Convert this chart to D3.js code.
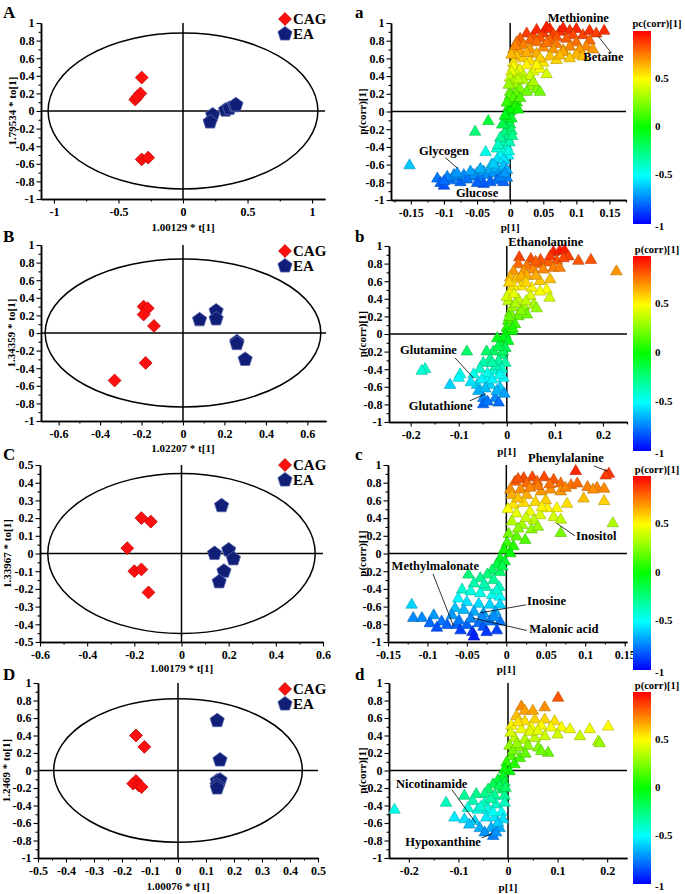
<!DOCTYPE html>
<html>
<head>
<meta charset="utf-8">
<script src="https://cdn.jsdelivr.net/npm/d3@7.9.0/dist/d3.min.js"></script>
<style>
  body { margin: 0; background: #fff; }
  svg { display: block; font-family: "Liberation Serif", "Times New Roman", serif; font-weight: bold; }
</style>
</head>
<body>
<svg id="fig" width="685" height="894"></svg>
<script>
/* ---------------- Data ---------------- */

// colour scale of p(corr)[1]
const colorDomain = [-1, -0.5, 0, 0.5, 1];
const colorRange = ['#0000ff', '#00ffff', '#00ff00', '#ffff00', '#ff0000'];
const colorbarTicks = [0.5, 0, -0.5, -1];

// tick labels
const ticksY2 = [-1, -0.8, -0.6, -0.4, -0.2, 0, 0.2, 0.4, 0.6, 0.8, 1];
const ticksY1 = [-0.5, -0.4, -0.3, -0.2, -0.1, 0, 0.1, 0.2, 0.3, 0.4, 0.5];
const ticksXA = [-1, -0.5, 0, 0.5, 1];
const ticksXB = [-0.6, -0.4, -0.2, 0, 0.2, 0.4, 0.6];
const ticksXC = [-0.6, -0.4, -0.2, 0, 0.2, 0.4, 0.6];
const ticksXD = [-0.5, -0.4, -0.3, -0.2, -0.1, 0, 0.1, 0.2, 0.3, 0.4, 0.5];
const ticksXa = [-0.15, -0.1, -0.05, 0, 0.05, 0.1, 0.15];
const ticksXb = [-0.2, -0.1, 0, 0.1, 0.2];
const ticksXc = [-0.15, -0.1, -0.05, 0, 0.05, 0.1, 0.15];
const ticksXd = [-0.2, -0.1, 0, 0.1, 0.2];

// score plots: [t[1], to[1]]
const cagA = [[-0.32, 0.38], [-0.33, 0.20], [-0.37, 0.13], [-0.355, 0.16], [-0.32, -0.55], [-0.27, -0.53]];
const eaA = [[0.23, -0.045], [0.21, -0.125], [0.33, 0.01], [0.36, 0.03], [0.40, 0.06], [0.41, 0.07]];
const cagB = [[-0.19, 0.30], [-0.17, 0.28], [-0.19, 0.21], [-0.14, 0.08], [-0.18, -0.34], [-0.33, -0.54]];
const eaB = [[0.08, 0.15], [0.16, 0.25], [0.16, 0.16], [0.26, -0.10], [0.26, -0.12], [0.30, -0.30]];
const cagC = [[-0.17, 0.20], [-0.13, 0.18], [-0.23, 0.03], [-0.20, -0.10], [-0.17, -0.09], [-0.14, -0.22]];
const eaC = [[0.17, 0.27], [0.14, 0.00], [0.20, 0.02], [0.22, -0.03], [0.18, -0.10], [0.16, -0.16]];
const cagD = [[-0.15, 0.40], [-0.12, 0.27], [-0.15, -0.12], [-0.16, -0.15], [-0.14, -0.17], [-0.13, -0.19]];
const eaD = [[0.14, 0.57], [0.15, 0.12], [0.14, -0.12], [0.15, -0.11], [0.14, -0.17], [0.14, -0.20]];

// Hotelling ellipse half axes [t, to]
const ellipseA = [1.045, 0.886];
const ellipseB = [0.665, 0.84];
const ellipseC = [0.567, 0.452];
const ellipseD = [0.444, 0.82];

// S-plots: [p[1], p(corr)[1]]
const splotA = [
  [0.025, 0.88], [0.035, 0.85], [0.04, 0.92], [0.05, 0.88], [0.055, 0.95], [0.06, 0.93], [0.065, 0.87], [0.075, 0.90],
  [0.08, 0.94], [0.09, 0.91], [0.1, 0.93], [0.11, 0.86], [0.12, 0.91], [0.13, 0.88], [0.142, 0.91], [0.015, 0.82],
  [0.03, 0.80], [0.045, 0.83], [0.07, 0.84], [0.095, 0.86],
  [0.01, 0.78], [0.02, 0.75], [0.04, 0.78], [0.06, 0.80], [0.07, 0.76], [0.085, 0.82], [0.1, 0.78], [0.12, 0.80],
  [0.115, 0.73], [0.125, 0.70], [0.005, 0.70], [0.03, 0.70], [0.05, 0.72], [0.09, 0.73], [0.015, 0.68], [0.008, 0.74],
  [0.065, 0.70], [0.08, 0.69], [0.105, 0.70], [0.055, 0.77],
  [0.01, 0.62], [0.02, 0.60], [0.04, 0.65], [0.06, 0.62], [0.08, 0.67], [0.1, 0.64], [0.11, 0.62], [0.005, 0.55],
  [0.03, 0.57], [0.05, 0.55], [0.07, 0.58], [0.09, 0.60], [0.002, 0.64], [0.025, 0.66], [0.045, 0.60], [0.075, 0.63],
  [0.005, 0.50], [0.015, 0.47], [0.025, 0.52], [0.035, 0.45], [0.045, 0.48], [0.055, 0.42], [0.01, 0.42], [0.002, 0.45],
  [0.02, 0.40], [0.04, 0.52], [0.03, 0.40],
  [0.0, 0.38], [0.005, 0.33], [0.01, 0.30], [0.02, 0.35], [0.03, 0.28], [0.04, 0.25], [0.045, 0.22], [0.015, 0.25],
  [0.0, 0.22], [0.008, 0.20], [0.025, 0.22], [-0.002, 0.30], [0.035, 0.33], [0.012, 0.36],
  [0.0, 0.18], [0.005, 0.12], [0.002, 0.08], [-0.002, 0.05], [0.004, 0.02], [-0.003, -0.02], [0.005, 0.15], [0.01, 0.10],
  [0.008, 0.05], [-0.005, 0.10], [0.0, 0.0], [0.015, 0.15], [0.012, 0.02],
  [-0.005, -0.05], [-0.003, -0.1], [0.0, -0.15], [-0.005, -0.2], [-0.008, -0.25], [-0.004, -0.3], [-0.01, -0.35],
  [-0.005, -0.4], [-0.012, -0.45], [-0.003, -0.5], [-0.015, -0.5], [-0.02, -0.55], [-0.008, -0.55], [-0.028, -0.6],
  [-0.037, -0.46], [0.002, -0.08], [0.002, -0.22], [-0.001, -0.35], [-0.012, -0.15], [-0.015, -0.3], [-0.002, -0.45],
  [-0.01, -0.55], [-0.02, -0.42], [-0.008, -0.05], [0.003, -0.28], [-0.018, -0.38],
  [-0.033, -0.11], [-0.053, -0.23], [-0.152, -0.61],
  [-0.11, -0.76], [-0.105, -0.81], [-0.1, -0.84], [-0.09, -0.78], [-0.08, -0.75], [-0.075, -0.80], [-0.07, -0.72],
  [-0.06, -0.74], [-0.05, -0.70], [-0.045, -0.76], [-0.04, -0.68], [-0.035, -0.72], [-0.03, -0.66], [-0.025, -0.70],
  [-0.02, -0.64], [-0.015, -0.68], [-0.01, -0.62], [-0.005, -0.66], [-0.04, -0.82], [-0.03, -0.80], [-0.02, -0.78],
  [-0.01, -0.80], [-0.005, -0.75], [-0.055, -0.72], [-0.065, -0.77], [-0.085, -0.72], [-0.095, -0.74], [-0.05, -0.81],
  [-0.015, -0.75], [-0.06, -0.68], [-0.025, -0.60], [-0.008, -0.70], [-0.1, -0.79], [-0.08, -0.70], [-0.045, -0.65]
];

const splotB = [
  [0.026, 0.87], [0.05, 0.85], [0.07, 0.84], [0.097, 0.93], [0.11, 0.94], [0.12, 0.95], [0.128, 0.88], [0.104, 0.83],
  [0.149, 0.83], [0.175, 0.84], [0.228, 0.71], [0.087, 0.81], [0.066, 0.79], [0.042, 0.77], [0.024, 0.79], [0.014, 0.71],
  [0.035, 0.71], [0.055, 0.73], [0.076, 0.73], [0.097, 0.75], [0.11, 0.75], [0.118, 0.86], [0.09, 0.88], [0.06, 0.82],
  [0.007, 0.64], [0.02, 0.62], [0.042, 0.66], [0.09, 0.62], [0.069, 0.60], [0.031, 0.54], [0.052, 0.52], [0.083, 0.50],
  [0.089, 0.41], [0.069, 0.48], [0.007, 0.48], [0.014, 0.54], [0.005, 0.58], [0.03, 0.65], [0.06, 0.66], [0.04, 0.58],
  [0.003, 0.37], [0.024, 0.39], [0.049, 0.43], [0.035, 0.31], [0.056, 0.33], [0.062, 0.29], [0.007, 0.24], [0.024, 0.20],
  [0.042, 0.22], [0.003, 0.15], [0.017, 0.11], [0.0, 0.07], [0.01, 0.03], [-0.003, -0.01], [0.012, 0.30], [0.0, 0.42],
  [0.015, 0.45], [0.03, 0.26], [0.005, 0.19], [0.012, 0.06], [0.04, 0.37], [0.018, 0.34],
  [-0.007, -0.05], [0.003, -0.08], [-0.014, -0.12], [-0.003, -0.16], [-0.028, -0.20], [-0.01, -0.24], [-0.042, -0.20],
  [-0.083, -0.20], [-0.035, -0.29], [-0.017, -0.31], [-0.049, -0.33], [-0.003, -0.33], [-0.056, -0.40], [-0.028, -0.42],
  [-0.01, -0.40], [-0.17, -0.40], [-0.177, -0.42], [-0.097, -0.46], [-0.069, -0.46], [-0.042, -0.50], [-0.007, -0.50],
  [-0.118, -0.58], [-0.062, -0.58], [-0.035, -0.58], [-0.014, -0.61], [-0.049, -0.73], [-0.024, -0.73], [-0.017, -0.78],
  [-0.049, -0.80], [-0.059, -0.65], [-0.021, -0.65], [-0.02, -0.05], [-0.008, -0.2], [-0.022, -0.37], [-0.04, -0.45],
  [-0.052, -0.52], [-0.075, -0.55], [-0.005, -0.68], [-0.03, -0.52], [-0.1, -0.5], [-0.04, -0.77], [-0.018, -0.15],
  [-0.03, -0.33], [-0.015, -0.47], [-0.045, -0.62]
];

const splotC = [
  [0.088, 0.93], [0.13, 0.90], [0.126, 0.88], [0.022, 0.85], [0.033, 0.86], [0.048, 0.86], [0.011, 0.81], [0.026, 0.79],
  [0.039, 0.81], [0.06, 0.83], [0.069, 0.79], [0.082, 0.77], [0.09, 0.79], [0.103, 0.75], [0.115, 0.74], [0.124, 0.73],
  [0.005, 0.72], [0.018, 0.72], [0.056, 0.72], [0.044, 0.70], [0.069, 0.70], [0.098, 0.62], [0.124, 0.59], [0.007, 0.66],
  [0.026, 0.66], [0.015, 0.84], [0.04, 0.76], [0.075, 0.74], [0.11, 0.72], [0.055, 0.78], [0.03, 0.74],
  [0.009, 0.55], [0.022, 0.57], [0.037, 0.58], [0.052, 0.51], [0.077, 0.56], [0.064, 0.51], [0.013, 0.45], [0.03, 0.47],
  [0.043, 0.43], [0.06, 0.41], [0.069, 0.38], [0.135, 0.34], [0.069, 0.23], [0.007, 0.36], [0.02, 0.32], [0.032, 0.27],
  [0.003, 0.22], [0.013, 0.19], [0.024, 0.15], [0.001, 0.12], [0.009, 0.08], [-0.003, 0.04], [0.005, 0.0], [0.05, 0.6],
  [0.002, 0.5], [0.015, 0.62], [0.035, 0.37], [0.045, 0.52], [0.025, 0.40], [0.015, 0.28], [0.04, 0.30],
  [-0.008, -0.06], [-0.002, -0.09], [-0.012, -0.13], [-0.018, -0.19], [-0.008, -0.21], [-0.024, -0.24], [-0.033, -0.28],
  [-0.016, -0.30], [-0.048, -0.24], [-0.041, -0.34], [-0.026, -0.38], [-0.009, -0.38], [-0.056, -0.41], [-0.045, -0.43],
  [-0.033, -0.45], [-0.018, -0.47], [-0.008, -0.49], [-0.061, -0.51], [-0.05, -0.55], [-0.035, -0.57], [-0.021, -0.58],
  [-0.008, -0.58], [-0.065, -0.62], [-0.054, -0.64], [-0.041, -0.66], [-0.029, -0.68], [-0.014, -0.66],
  [-0.12, -0.58], [-0.118, -0.73], [-0.107, -0.73], [-0.092, -0.70], [-0.097, -0.79], [-0.082, -0.77], [-0.075, -0.81],
  [-0.069, -0.70], [-0.063, -0.81], [-0.058, -0.87], [-0.05, -0.81], [-0.043, -0.89], [-0.041, -0.94], [-0.035, -0.79],
  [-0.029, -0.83], [-0.021, -0.77], [-0.012, -0.87], [-0.008, -0.77], [-0.025, -0.89], [-0.088, -0.84],
  [-0.045, -0.74], [-0.03, -0.73], [-0.015, -0.72], [-0.06, -0.76], [-0.005, -0.15], [-0.028, -0.35], [-0.012, -0.42]
];

const splotD = [
  [0.101, 0.83], [0.027, 0.73], [0.034, 0.68], [0.05, 0.68], [0.074, 0.72], [0.017, 0.62], [0.034, 0.56], [0.054, 0.58],
  [0.074, 0.58], [0.094, 0.56], [0.007, 0.51], [0.027, 0.47], [0.047, 0.49], [0.067, 0.51], [0.087, 0.49], [0.108, 0.49],
  [0.125, 0.47], [0.165, 0.47], [0.202, 0.50], [0.145, 0.39], [0.182, 0.33], [0.185, 0.31], [0.1, 0.41], [0.074, 0.39],
  [0.054, 0.37], [0.034, 0.35], [0.013, 0.37], [0.003, 0.28], [0.02, 0.26], [0.04, 0.28], [0.061, 0.26], [0.081, 0.20],
  [0.067, 0.22], [0.007, 0.16], [0.024, 0.14], [-0.003, 0.09], [0.013, 0.07], [0.003, -0.01], [-0.007, 0.01],
  [0.005, 0.43], [0.02, 0.55], [0.045, 0.44], [0.01, 0.22], [0.035, 0.19], [0.06, 0.45], [0.018, 0.30],
  [-0.01, -0.07], [-0.02, -0.11], [-0.007, -0.14], [-0.03, -0.16], [-0.013, -0.22], [-0.04, -0.22], [-0.047, -0.27],
  [-0.027, -0.29], [-0.007, -0.29], [-0.064, -0.27], [-0.088, -0.29], [-0.071, -0.35], [-0.047, -0.37], [-0.024, -0.39],
  [-0.007, -0.37], [-0.125, -0.37], [-0.081, -0.43], [-0.061, -0.45], [-0.04, -0.45], [-0.013, -0.48], [-0.108, -0.54],
  [-0.088, -0.56], [-0.067, -0.58], [-0.044, -0.54], [-0.027, -0.54], [-0.01, -0.56], [-0.229, -0.45], [-0.078, -0.62],
  [-0.057, -0.66], [-0.034, -0.66], [-0.017, -0.66], [-0.047, -0.71], [-0.03, -0.75], [-0.024, -0.71],
  [-0.017, -0.18], [-0.035, -0.33], [-0.055, -0.42], [-0.02, -0.6], [-0.005, -0.2], [-0.03, -0.48]
];

// labelled metabolites: text centre and pointer line, in data units
const notesA = [
  { t: 'Methionine', x: 0.103, y: 1.04 },
  { t: 'Betaine', x: 0.141, y: 0.60, l: [0.133, 0.85, 0.153, 0.66] },
  { t: 'Glycogen', x: -0.10, y: -0.46, l: [-0.098, -0.52, -0.08, -0.64] },
  { t: 'Glucose', x: -0.05, y: -0.93 }
];
const notesB = [
  { t: 'Ethanolamine', x: 0.081, y: 1.03 },
  { t: 'Glutamine', x: -0.163, y: -0.2, l: [-0.108, -0.27, -0.069, -0.5] },
  { t: 'Glutathione', x: -0.1375, y: -0.83, l: [-0.077, -0.76, -0.044, -0.68] }
];
const notesC = [
  { t: 'Phenylalanine', x: 0.0755, y: 1.07, l: [0.111, 0.99, 0.128, 0.93] },
  { t: 'Inositol', x: 0.114, y: 0.18, l: [0.087, 0.20, 0.064, 0.34] },
  { t: 'Methylmalonate', x: -0.09, y: -0.15, l: [-0.093, -0.23, -0.067, -0.82] },
  { t: 'Inosine', x: 0.051, y: -0.55, l: [0.025, -0.58, -0.033, -0.67] },
  { t: 'Malonic acid', x: 0.073, y: -0.87, l: [0.026, -0.87, -0.042, -0.73] }
];
const notesD = [
  { t: 'Nicotinamide', x: -0.154, y: -0.17, l: [-0.113, -0.22, -0.065, -0.6] },
  { t: 'Hypoxanthine', x: -0.131, y: -0.83, l: [-0.053, -0.77, -0.032, -0.72] }
];

/* ---------------- Layout of the four rows ---------------- */

const rows = [
  {
    L: 'A', l: 'a', letterY: 18, legendY: 19,
    score: { l: 41, r: 325, t: 23, b: 199, xd: [-1.1, 1.1], yd: [-1, 1] },
    sp: { l: 391, r: 626, t: 23, b: 200, xd: [-0.18, 0.175], yd: [-1, 1] },
    cb: { t: 31, b: 224, titleY: 27, title: 'pc(corr)[1]' },
    xTicks: ticksXA, yTicks: ticksY2, spTicks: ticksXa,
    cag: cagA, ea: eaA, ell: ellipseA, splot: splotA, notes: notesA,
    xLabel: '1.00129 * t[1]', xLabelY: 231, yLabel: '1.79534 * to[1]', yLabelX: 13, pY: 231
  },
  {
    L: 'B', l: 'b', letterY: 242, legendY: 251,
    score: { l: 41, r: 326, t: 245, b: 421, xd: [-0.685, 0.69], yd: [-1, 1] },
    sp: { l: 389, r: 627, t: 246, b: 422, xd: [-0.245, 0.25], yd: [-1, 1] },
    cb: { t: 256, b: 451, titleY: 253, title: 'p(corr)[1]' },
    xTicks: ticksXB, yTicks: ticksY2, spTicks: ticksXb,
    cag: cagB, ea: eaB, ell: ellipseB, splot: splotB, notes: notesB,
    xLabel: '1.02207 * t[1]', xLabelY: 452, yLabel: '1.34359 * to[1]', yLabelX: 12, pY: 455
  },
  {
    L: 'C', l: 'c', letterY: 460, legendY: 465,
    score: { l: 40, r: 323, t: 465, b: 642, xd: [-0.6, 0.6], yd: [-0.5, 0.5] },
    sp: { l: 388, r: 627, t: 465, b: 642, xd: [-0.15, 0.153], yd: [-1, 1] },
    cb: { t: 476, b: 670, titleY: 473, title: 'p(corr)[1]' },
    xTicks: ticksXC, yTicks: ticksY1, spTicks: ticksXc,
    cag: cagC, ea: eaC, ell: ellipseC, splot: splotC, notes: notesC,
    xLabel: '1.00179 * t[1]', xLabelY: 672, yLabel: '1.33967 * to[1]', yLabelX: 8, pY: 673
  },
  {
    L: 'D', l: 'd', letterY: 680, legendY: 689,
    score: { l: 38, r: 318, t: 683, b: 858, xd: [-0.5, 0.5], yd: [-1, 1] },
    sp: { l: 389, r: 627, t: 683, b: 858, xd: [-0.24, 0.24], yd: [-1, 1] },
    cb: { t: 692, b: 884, titleY: 689, title: 'p(corr)[1]' },
    xTicks: ticksXD, yTicks: ticksY2, spTicks: ticksXd,
    cag: cagD, ea: eaD, ell: ellipseD, splot: splotD, notes: notesD,
    xLabel: '1.00076 * t[1]', xLabelY: 890, yLabel: '1.2469 * to[1]', yLabelX: 7, pY: 891
  }
];

/* ---------------- Helpers ---------------- */

const fig = d3.select('#fig');
const color = d3.scaleLinear().domain(colorDomain).range(colorRange).clamp(true);
const fmt = v => String(+v.toFixed(3));

const grad = fig.append('defs').append('linearGradient')
  .attr('id', 'jet').attr('x1', 0).attr('y1', 1).attr('x2', 0).attr('y2', 0);
colorDomain.forEach((v, i) => grad.append('stop').attr('offset', (v + 1) / 2).attr('stop-color', colorRange[i]));

// minor ticks at half steps between labelled ones
function minorTicks(major, domain) {
  const step = major[1] - major[0];
  const out = [];
  for (let i = -1; i < major.length; i++) {
    const m = i < 0 ? major[0] - step / 2 : major[i] + step / 2;
    if (m >= domain[0] - 1e-9 && m <= domain[1] + 1e-9) out.push(m);
  }
  return out;
}

function styleAxis(g) {
  g.attr('font-family', null).attr('font-size', null);
  g.select('.domain').attr('stroke-width', 1.5);
  g.selectAll('.tick line').attr('stroke-width', 1.1);
  g.selectAll('text').attr('font-size', 12).attr('font-weight', 'bold').attr('fill', '#000');
}

function drawAxes(x, y, xt, yt) {
  const bottom = y.range()[0], left = x.range()[0];
  fig.append('g').attr('transform', `translate(0,${bottom})`)
    .call(d3.axisBottom(x).tickValues(minorTicks(xt, x.domain())).tickSize(2.5).tickSizeOuter(0).tickFormat(''))
    .call(styleAxis);
  fig.append('g').attr('transform', `translate(${left},0)`)
    .call(d3.axisLeft(y).tickValues(minorTicks(yt, y.domain())).tickSize(2.5).tickSizeOuter(0).tickFormat(''))
    .call(styleAxis);
  fig.append('g').attr('transform', `translate(0,${bottom})`)
    .call(d3.axisBottom(x).tickValues(xt).tickSize(4.5).tickSizeOuter(0).tickPadding(4).tickFormat(fmt))
    .call(styleAxis);
  fig.append('g').attr('transform', `translate(${left},0)`)
    .call(d3.axisLeft(y).tickValues(yt).tickSize(4.5).tickSizeOuter(0).tickPadding(2).tickFormat(fmt))
    .call(styleAxis);
}

function zeroLines(x, y) {
  fig.append('line').attr('x1', x.range()[0]).attr('x2', x.range()[1])
    .attr('y1', y(0)).attr('y2', y(0)).attr('stroke', '#000').attr('stroke-width', 1.5);
  fig.append('line').attr('x1', x(0)).attr('x2', x(0))
    .attr('y1', y.range()[0]).attr('y2', y.range()[1]).attr('stroke', '#000').attr('stroke-width', 1.5);
}

function pentagon(r) {
  const pts = d3.range(5).map(k => {
    const a = -Math.PI / 2 + k * 2 * Math.PI / 5;
    return [r * Math.cos(a), r * Math.sin(a)];
  });
  return 'M' + pts.join('L') + 'Z';
}
const diamond = d3.symbol(d3.symbolSquare, 82)();

function drawCag(g, pts, x, y) {
  g.selectAll(null).data(pts).join('path')
    .attr('d', diamond)
    .attr('transform', d => `translate(${x(d[0])},${y(d[1])}) rotate(45)`)
    .attr('fill', '#ff1010').attr('stroke', '#c40000').attr('stroke-width', 0.8);
}
function drawEa(g, pts, x, y) {
  g.selectAll(null).data(pts).join('path')
    .attr('d', pentagon(7.5))
    .attr('transform', d => `translate(${x(d[0])},${y(d[1])})`)
    .attr('fill', '#101e78').attr('stroke', '#5564a8').attr('stroke-width', 0.8);
}

function label(x, y, text, size, opts = {}) {
  const t = fig.append('text').attr('x', x).attr('y', y).attr('font-size', size)
    .attr('text-anchor', opts.anchor || 'middle').attr('fill', '#000').text(text);
  if (opts.rotate) t.attr('transform', `rotate(-90,${x},${y})`).attr('dominant-baseline', 'middle');
  if (opts.middle) t.attr('dominant-baseline', 'middle');
  return t;
}

/* ---------------- Score plot (left) ---------------- */

function scorePanel(row) {
  const L = row.score;
  const x = d3.scaleLinear().domain(L.xd).range([L.l, L.r]);
  const y = d3.scaleLinear().domain(L.yd).range([L.b, L.t]);

  drawAxes(x, y, row.xTicks, row.yTicks);
  zeroLines(x, y);

  fig.append('ellipse')
    .attr('cx', x(0)).attr('cy', y(0))
    .attr('rx', x(row.ell[0]) - x(0)).attr('ry', y(0) - y(row.ell[1]))
    .attr('fill', 'none').attr('stroke', '#000').attr('stroke-width', 1.5);

  const g = fig.append('g');
  drawCag(g, row.cag, x, y);
  drawEa(g, row.ea, x, y);

  // legend
  const lg = fig.append('g');
  lg.append('path').attr('d', diamond).attr('transform', `translate(285,${row.legendY}) rotate(45)`)
    .attr('fill', '#ff1010').attr('stroke', '#c40000').attr('stroke-width', 0.8);
  lg.append('path').attr('d', pentagon(7.5)).attr('transform', `translate(285,${row.legendY + 15})`)
    .attr('fill', '#101e78').attr('stroke', '#5564a8').attr('stroke-width', 0.8);
  label(293, row.legendY + 5, 'CAG', 15, { anchor: 'start' });
  label(293, row.legendY + 20, 'EA', 15, { anchor: 'start' });

  label(3, row.letterY, row.L, 17, { anchor: 'start' });
  label(x(0), row.xLabelY, row.xLabel, 11);
  label(row.yLabelX, (L.t + L.b) / 2, row.yLabel, 11, { rotate: true });
}

/* ---------------- S-plot (right) ---------------- */

function sPanel(row) {
  const L = row.sp;
  const x = d3.scaleLinear().domain(L.xd).range([L.l, L.r]);
  const y = d3.scaleLinear().domain(L.yd).range([L.b, L.t]);

  drawAxes(x, y, row.spTicks, ticksY2);
  zeroLines(x, y);

  const tri = d3.symbol(d3.symbolTriangle, 58)();
  fig.append('g').selectAll('path').data(row.splot).join('path')
    .attr('d', tri)
    .attr('transform', d => `translate(${x(d[0])},${y(d[1])})`)
    .attr('fill', d => color(d[1]))
    .attr('stroke', d => d3.color(color(d[1])).darker(0.9))
    .attr('stroke-width', 0.6);

  // metabolite labels
  row.notes.forEach(n => {
    if (n.l) {
      fig.append('line')
        .attr('x1', x(n.l[0])).attr('y1', y(n.l[1]))
        .attr('x2', x(n.l[2])).attr('y2', y(n.l[3]))
        .attr('stroke', '#000').attr('stroke-width', 0.8);
    }
    label(x(n.x), y(n.y), n.t, 12.5, { middle: true });
  });

  label(355, row.letterY, row.l, 17, { anchor: 'start' });
  label(x(0), row.pY, 'p[1]', 11);
  label(363, (L.t + L.b) / 2, 'p(corr)[1]', 11, { rotate: true });

  // colour bar
  const cb = row.cb;
  fig.append('rect').attr('x', 633).attr('y', cb.t).attr('width', 18).attr('height', cb.b - cb.t)
    .attr('fill', 'url(#jet)');
  const cy = d3.scaleLinear().domain([-1, 1]).range([cb.b, cb.t]);
  fig.append('g').selectAll('text').data(colorbarTicks).join('text')
    .attr('x', 655).attr('y', d => cy(d) + (d === -1 ? 3 : 0))
    .attr('dominant-baseline', 'middle').attr('font-size', 11).attr('fill', '#000')
    .text(fmt);
  label(657, cb.titleY, cb.title, 10.5);
}

rows.forEach(r => { scorePanel(r); sPanel(r); });
</script>
</body>
</html>
